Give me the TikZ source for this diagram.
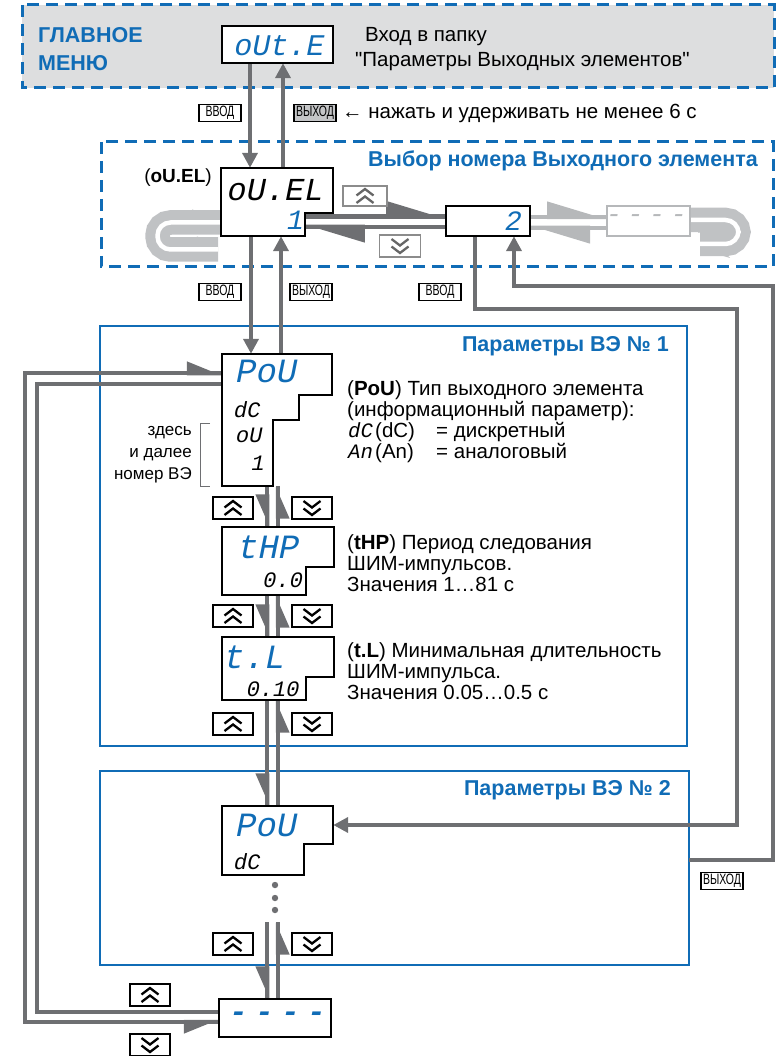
\documentclass[tikz,border=0pt]{standalone}
\usepackage{fontspec}
\setmainfont{Liberation Sans}[Ligatures=TeXOff]
\newfontfamily\segfont[FakeSlant=0.2]{Liberation Mono}
\newfontfamily\btnfont[FakeStretch=0.7]{Liberation Sans}
\usetikzlibrary{arrows.meta,calc,positioning}

\definecolor{menublue}{RGB}{16,108,182}
\definecolor{darkline}{RGB}{110,111,114}
\definecolor{lightline}{RGB}{182,184,186}
\definecolor{tubeline}{RGB}{192,194,196}
\definecolor{menufill}{RGB}{221,222,223}
\definecolor{keyfill}{RGB}{196,197,199}

\tikzset{
  dashframe/.style={draw=menublue, line width=3pt, dash pattern=on 12pt off 7pt},
  parframe/.style={draw=menublue, line width=2.6pt},
  disp/.style={draw=none, inner sep=0pt},
  displine/.style={draw=black, fill=white, line width=2.4pt},
  segbig/.style={inner sep=0pt, text=menublue, font=\segfont\fontsize{34}{34}\selectfont},
  segval/.style={inner sep=0pt, font=\segfont\fontsize{22}{22}\selectfont},
  btn/.style={draw, fill=white, line width=1.6pt, minimum width=42pt, minimum height=17pt,
    inner sep=0pt, font=\btnfont\fontsize{15}{15}\selectfont},
  arrbtn/.style={draw, fill=white, line width=1.8pt, minimum width=40pt, minimum height=22pt, inner sep=0pt},
  upbtn/.style={arrbtn, path picture={
    \foreach \dy in {0.5,-7}
      \draw[line width=2.3pt,#1] ([shift={(-8.5pt,\dy pt)}]path picture bounding box.center)
        -- ++(8.5pt,6.5pt) -- ++(8.5pt,-6.5pt);
  }},
  upbtn/.default=black,
  dnbtn/.style={arrbtn, path picture={
    \foreach \dy in {7,-0.5}
      \draw[line width=2.3pt,#1] ([shift={(-8.5pt,\dy pt)}]path picture bounding box.center)
        -- ++(8.5pt,-6.5pt) -- ++(8.5pt,6.5pt);
  }},
  dnbtn/.default=black,
  conn/.style={draw=darkline, line width=4.5pt},
  lconn/.style={draw=lightline, line width=4.5pt},
  tube/.style={draw=tubeline, line width=10pt, double=white, double distance=4.5pt, rounded corners=13pt},
  tri/.style={-{Triangle[length=15pt,width=15pt]}},
  vbarb/.style={postaction={draw, -{Stealth[right,inset=0pt,length=27pt,width=22pt]}}},
  hbarb/.style={postaction={draw, -{Stealth[left,inset=0pt,length=52pt,width=30pt]}}},
  txt/.style={inner sep=0pt, font=\fontsize{20.5}{21}\selectfont},
  ttl/.style={inner sep=0pt, text=menublue, font=\bfseries\fontsize{21.5}{28}\selectfont},
}

\begin{document}
\begin{tikzpicture}[x=1pt,y=-1pt]
\useasboundingbox (0,0) rectangle (776,1056);

% frames
\draw[dashframe,fill=menufill] (22,5) rectangle (774,88);
\draw[dashframe] (101,142) rectangle (773,267);
\draw[parframe] (100,326) rectangle (687,746);
\draw[parframe] (100,771) rectangle (689,965);

% display places
\node[disp,minimum width=111pt,minimum height=37pt] (oute) at (277.5,44.5) {};
\node[disp,minimum width=112pt,minimum height=68pt] (ouel) at (277,202) {};
\coordinate (ouelstep) at (305,213);
\node[disp,minimum width=84pt,minimum height=30pt] (sel2) at (488,221) {};
\node[disp,minimum width=83pt,minimum height=30pt] (seln) at (648.5,221) {};
\node[disp,minimum width=110pt,minimum height=132pt] (pou1) at (277,420) {};
\node[disp,minimum width=112pt,minimum height=68pt] (thp) at (278,561) {};
\node[disp,minimum width=112pt,minimum height=63pt] (tl) at (278,668.5) {};
\node[disp,minimum width=111pt,minimum height=69pt] (pou2) at (277.5,840.5) {};
\node[disp,minimum width=112pt,minimum height=38pt] (last) at (275,1018) {};
\coordinate (dotsend) at (272,922);
\coordinate (par2exit) at (689,860);
\coordinate (laneL) at (267,0);
\coordinate (laneR) at (278,0);

% menu <-> selection <-> parameters
\draw[conn,tri] (oute.south -| 250,0) -- (ouel.north -| 250,0);
\draw[conn,tri] (ouel.north -| 283,0) -- (oute.south -| 283,0);
\draw[conn,tri] (ouel.south -| 251,0) -- (pou1.north -| 251,0);
\draw[conn,tri] (pou1.north -| 281,0) -- (ouel.south -| 281,0);

% element number selection
\draw[conn,hbarb] (ouelstep |- 0,216.5) -- (sel2.west |- 0,216.5);
\draw[conn,hbarb] (sel2.west |- 0,227) -- (ouelstep |- 0,227);
\draw[lconn,hbarb] (sel2.east |- 0,217) -- (seln.west |- 0,217);
\draw[lconn,hbarb] (seln.west |- 0,228) -- (sel2.east |- 0,228);
\draw[tube] (ouel.west |- 0,222.5) -- (157.5,222.5) -- (157.5,249.5) -- (218,249.5);
\draw[tube] (seln.east |- 0,220) -- (738.5,220) -- (738.5,244) -- (700,244);
\fill[tubeline] (221,217.5) -- (192,209.5) -- (199,217.5) -- cycle;
\fill[tubeline] (170,244.5) -- (198,236.5) -- (191,244.5) -- cycle;
\fill[tubeline] (727,225) -- (698,233) -- (705,225) -- cycle;
\fill[tubeline] (700,249) -- (730,258) -- (722,249) -- cycle;

% enter / exit of element 2
\draw[conn,tri] (sel2.south -| 475,0) -- (475,309) -- (737,309) -- (737,825) -- (pou2.east |- 0,825);
\draw[conn,tri] (par2exit) -- (773,860) -- (773,286) -- (514,286) -- (sel2.south -| 514,0);

% parameter list
\draw[conn,vbarb] (pou1.south -| laneL) -- (thp.north -| laneL);
\draw[conn,vbarb] (thp.north -| laneR) -- (pou1.south -| laneR);
\draw[conn,vbarb] (thp.south -| laneL) -- (tl.north -| laneL);
\draw[conn,vbarb] (tl.north -| laneR) -- (thp.south -| laneR);
\draw[conn,vbarb] (tl.south -| laneL) -- (pou2.north -| laneL);
\draw[conn,vbarb] (pou2.north -| laneR) -- (tl.south -| laneR);
\draw[conn,vbarb] (dotsend -| laneL) -- (last.north -| laneL);
\draw[conn,vbarb] (last.north -| laneR) -- (dotsend -| laneR);
\foreach \y in {885,898,910}
  \fill[darkline] (275,\y) circle (3.2pt);

% wrap round between first and last
\draw[conn,postaction={draw,{Stealth[right,inset=0pt,length=29pt,width=22pt]}-{Stealth[left,inset=0pt,length=29pt,width=22pt]}}]
  (last.west |- 0,1022) -- (25,1022) -- (25,373) -- (pou1.west |- 0,373);
\draw[conn] (pou1.west |- 0,384) -- (37,384) -- (37,1012) -- (last.west |- 0,1012);

% displays
\draw[displine] (oute.north west) rectangle (oute.south east);
\draw[displine] (221,168) -- (333,168) -- (333,213) -- (305,213) -- (305,236) -- (221,236) -- cycle;
\draw[displine] (sel2.north west) rectangle (sel2.south east);
\draw[draw=lightline, fill=white, line width=2pt] (seln.north west) rectangle (seln.south east);
\draw[displine] (222,354) -- (332,354) -- (332,395) -- (299,395) -- (299,420) -- (273,420) -- (273,486) -- (222,486) -- cycle;
\draw[displine] (222,527) -- (334,527) -- (334,567) -- (306,567) -- (306,595) -- (222,595) -- cycle;
\draw[displine] (222,637) -- (334,637) -- (334,677) -- (306,677) -- (306,700) -- (222,700) -- cycle;
\draw[displine] (222,806) -- (333,806) -- (333,844) -- (304,844) -- (304,875) -- (222,875) -- cycle;
\draw[displine] (last.north west) rectangle (last.south east);

\node[segbig,font=\segfont\fontsize{30}{30}\selectfont] (outetxt) at (278,46) {oUt.E};
\node[segbig,text=black,font=\segfont\fontsize{32}{32}\selectfont] (oueltxt) at (274,190) {oU.EL};
\node[segbig,font=\segfont\fontsize{28}{28}\selectfont] (ouelnum) at (294,220) {1};
\node[segbig,font=\segfont\fontsize{28}{28}\selectfont] (sel2num) at (512,221) {2};
\node[segbig,text=lightline,font=\segfont\fontsize{26}{26}\selectfont] (selntxt) at (645,219)
  {-\hspace{6pt}-\hspace{6pt}-\hspace{6pt}-};
\node[segbig] (pou1txt) at (265,371) {PoU};
\node[segval] (pou1dc) at (246,410) {dC};
\node[segval] (pou1ou) at (248,435) {oU};
\node[segval] (pou1num) at (257,463) {1};
\node[segbig] (thptxt) at (267,547) {tHP};
\node[segval] (thpval) at (282,580) {0.0};
\node[segbig] (tltxt) at (253,657) {t.L};
\node[segval] (tlval) at (272,689) {0.10};
\node[segbig] (pou2txt) at (265,825) {PoU};
\node[segval] (pou2dc) at (246,862) {dC};
\node[segbig,font=\segfont\bfseries\fontsize{30}{30}\selectfont] (lasttxt) at (276,1017)
  {-\hspace{8pt}-\hspace{8pt}-\hspace{8pt}-};

% buttons
\node[btn] (vvod1) at (220,113) {ВВОД};
\node[btn,fill=keyfill] (vyhod1) at (315,113) {ВЫХОД};
\node[btn] (vvod2) at (220,292) {ВВОД};
\node[btn] (vyhod2) at (311,292) {ВЫХОД};
\node[btn] (vvod3) at (440,292) {ВВОД};
\node[btn] (vyhod3) at (722,881) {ВЫХОД};
\node[upbtn=black!60,draw=black!45,minimum width=44pt,minimum height=20pt] (selup) at (365,196) {};
\node[dnbtn=black!60,draw=black!45,minimum width=41pt] (seldn) at (400,246) {};
\foreach \y/\n in {508/a,616/b,724/c,944/d} {
  \node[upbtn] (up\n) at (233,\y) {};
  \node[dnbtn] (dn\n) at (312,\y) {};
}
\node[upbtn] (lastup) at (150,995) {};
\node[dnbtn] (lastdn) at (150,1045) {};

% texts
\node[ttl,anchor=west,align=left] (glav) at (38,49) {ГЛАВНОЕ\\МЕНЮ};
\node[txt,anchor=west,align=left,font=\fontsize{20.5}{25}\selectfont] (vhod) at (355,49)
  {\hspace*{10pt}Вход в папку\\"Параметры Выходных элементов"};
\node[txt,anchor=west] (hold) at (342,113) {← нажать и удерживать не менее 6 с};
\node[ttl,anchor=east] (seltitle) at (758,161) {Выбор номера Выходного элемента};
\node[txt,anchor=east,font=\fontsize{19}{20}\selectfont] (ouelname) at (212,178) {(\textbf{oU.EL})};
\node[ttl,anchor=east] (par1title) at (669,346) {Параметры ВЭ № 1};
\node[ttl,anchor=east] (par2title) at (671,790) {Параметры ВЭ № 2};
\node[txt,anchor=east,align=right,font=\fontsize{17}{22}\selectfont] (zdes) at (192,455) {здесь\\и далее\\номер ВЭ};
\draw[darkline,line width=1pt] (210,423) -- (200,423) -- (200,486) -- (210,486);
\node[txt,anchor=west,align=left] (poutxt) at (347,421.5)
  {(\textbf{PoU}) Тип выходного элемента\\(информационный параметр):\\
   \makebox[28pt][l]{\segfont dC}\makebox[61pt][l]{(dC)}= дискретный\\
   \makebox[28pt][l]{\segfont An}\makebox[61pt][l]{(An)}= аналоговый};
\node[txt,anchor=west,align=left] (thpdesc) at (347,563)
  {(\textbf{tHP}) Период следования\\ШИМ-импульсов.\\Значения 1…81 с};
\node[txt,anchor=west,align=left] (tldesc) at (347,671)
  {(\textbf{t.L}) Минимальная длительность\\ШИМ-импульса.\\Значения 0.05…0.5 с};
\end{tikzpicture}
\end{document}
